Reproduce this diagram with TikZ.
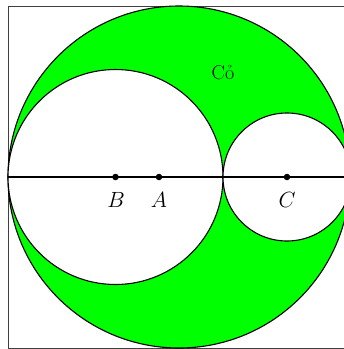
\RequirePackage{fix-cm}
\documentclass[tikz,border=0pt]{standalone}
\usepackage{fontspec}
\begin{document}
\begin{tikzpicture}[x=1pt,y=-1pt,
  outline/.style={draw=black,line width=1.1pt},
  frame/.style={draw=black!75,line width=1pt},
  pt/.style={circle,fill=black,inner sep=0pt,minimum size=6.5pt},
  lbl/.style={anchor=base,font=\fontsize{22}{26}\selectfont},
  grass/.style={fill={rgb,255:red,0;green,255;blue,0}}]
\useasboundingbox (0,0) rectangle (344,349);
\draw[frame] (8,6) rectangle (350,348);
\coordinate (O) at (179,177);
\coordinate (B) at (115.5,177);
\coordinate (Cc) at (287,177);
\coordinate (Ac) at (159,177);
\coordinate (L) at (8,177);
\coordinate (R) at (350,177);
\path[grass,outline] (O) circle[radius=171];
\path[fill=white,outline] (B) circle[radius=107.5];
\path[fill=white,outline] (Cc) circle[radius=64];
\draw[outline] (L) -- (R);
\node[pt] (pB) at (B) {};
\node[pt] (pA) at (Ac) {};
\node[pt] (pC) at (Cc) {};
\node[lbl] (tB) at (116,207) {$B$};
\node[lbl] (tA) at (159,207) {$A$};
\node[lbl] (tC) at (287,207) {$C$};
\node[lbl,font=\fontsize{20}{24}\selectfont] (grassText) at (223,79) {Cỏ};
\end{tikzpicture}
\end{document}
